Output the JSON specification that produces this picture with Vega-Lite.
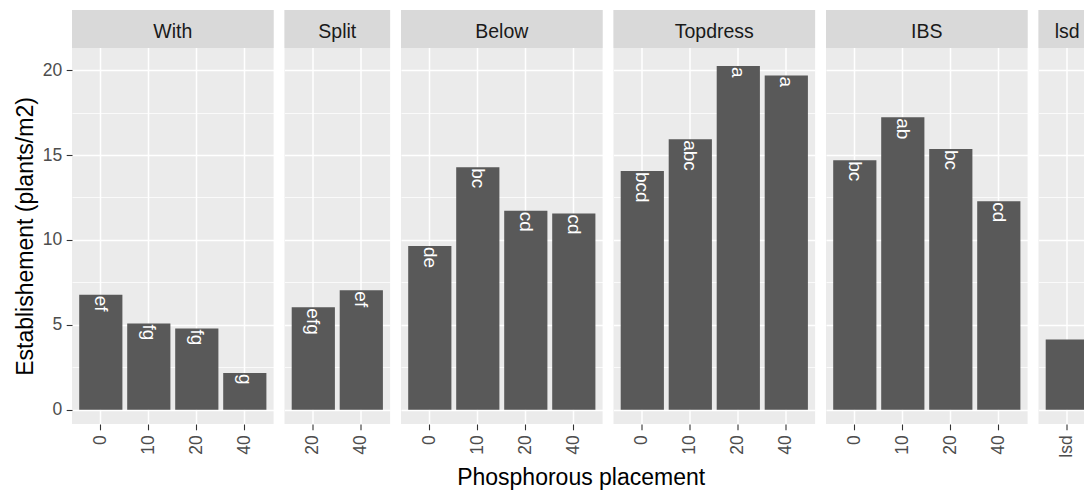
{
  "$schema": "https://vega.github.io/schema/vega-lite/v6.json",
  "padding": {"left": 14, "top": 10, "right": 0, "bottom": 0},
  "background": "white",
  "datasets": {
    "d": [
      {"placement": "With", "rate": "0", "value": 6.77, "letters": "ef"},
      {"placement": "With", "rate": "10", "value": 5.08, "letters": "fg"},
      {"placement": "With", "rate": "20", "value": 4.79, "letters": "fg"},
      {"placement": "With", "rate": "40", "value": 2.17, "letters": "g"},
      {"placement": "Split", "rate": "20", "value": 6.03, "letters": "efg"},
      {"placement": "Split", "rate": "40", "value": 7.03, "letters": "ef"},
      {"placement": "Below", "rate": "0", "value": 9.64, "letters": "de"},
      {"placement": "Below", "rate": "10", "value": 14.28, "letters": "bc"},
      {"placement": "Below", "rate": "20", "value": 11.72, "letters": "cd"},
      {"placement": "Below", "rate": "40", "value": 11.55, "letters": "cd"},
      {"placement": "Topdress", "rate": "0", "value": 14.06, "letters": "bcd"},
      {"placement": "Topdress", "rate": "10", "value": 15.93, "letters": "abc"},
      {"placement": "Topdress", "rate": "20", "value": 20.24, "letters": "a"},
      {"placement": "Topdress", "rate": "40", "value": 19.68, "letters": "a"},
      {"placement": "IBS", "rate": "0", "value": 14.69, "letters": "bc"},
      {"placement": "IBS", "rate": "10", "value": 17.23, "letters": "ab"},
      {"placement": "IBS", "rate": "20", "value": 15.36, "letters": "bc"},
      {"placement": "IBS", "rate": "40", "value": 12.28, "letters": "cd"},
      {"placement": "lsd", "rate": "lsd", "value": 4.14, "letters": ""}
    ]
  },
  "title": {
    "text": "Phosphorous placement",
    "orient": "bottom",
    "anchor": "middle",
    "fontSize": 23,
    "fontWeight": "normal",
    "color": "black",
    "font": "Liberation Sans",
    "offset": 10,
    "dx": 26
  },
  "spacing": 10.5,
  "resolve": {"scale": {"x": "independent", "y": "independent"}},
  "hconcat": [
    {
      "width": 201.6, "height": 414,
      "data": {"name": "d"},
      "transform": [{"filter": "datum.placement === 'With'"}],
      "layer": [
        {
          "mark": {"type": "bar", "fill": "#595959"},
          "encoding": {
            "x": {"field": "rate", "type": "nominal", "scale": {"paddingInner": 0.1, "paddingOuter": 0.15}, "axis": {"title": null, "grid": true}},
            "y": {
              "field": "value", "type": "quantitative",
              "scale": {"domain": [-0.84, 23.54], "nice": false, "zero": false},
              "axis": {
                "title": "Establishement (plants/m2)",
                "titleFontSize": 23, "titleFont": "Liberation Sans", "titleFontWeight": "normal", "titleColor": "black",
                "titlePadding": 5, "titleY": 226,
                "values": [0, 2.5, 5, 7.5, 10, 12.5, 15, 17.5, 20],
                "labelExpr": "datum.value % 5 === 0 ? datum.label : ''",
                "labelFontSize": 17.5, "labelColor": "#4D4D4D", "labelFont": "Liberation Sans", "labelPadding": 4.5,
                "tickSize": 5.8, "tickWidth": 1.1, "tickColor": "#333333",
                "tickOpacity": {"condition": {"test": "datum.value % 5 === 0", "value": 1}, "value": 0},
                "grid": true, "gridColor": "white",
                "gridWidth": {"condition": {"test": "datum.value % 5 === 0", "value": 1.5}, "value": 0.75},
                "domain": false
              }
            },
            "y2": {"datum": 0}
          }
        },
        {
          "mark": {"type": "text", "angle": 90, "align": "left", "baseline": "middle", "dx": 1, "fill": "white", "fontSize": 19, "font": "Liberation Sans"},
          "encoding": {"x": {"field": "rate", "type": "nominal"}, "y": {"field": "value", "type": "quantitative"}, "text": {"field": "letters"}}
        },
        {
          "transform": [{"aggregate": [{"op": "count", "as": "n"}], "groupby": ["placement"]}],
          "mark": {"type": "rect", "fill": "#D9D9D9"},
          "encoding": {"x": {"value": 0}, "x2": {"value": "width"}, "y": {"datum": 23.54}, "y2": {"datum": 21.3}}
        },
        {
          "transform": [{"aggregate": [{"op": "count", "as": "n"}], "groupby": ["placement"]}],
          "mark": {"type": "text", "fontSize": 19.5, "fill": "#1A1A1A", "baseline": "middle", "align": "center", "font": "Liberation Sans"},
          "encoding": {"y": {"datum": 22.22}, "text": {"field": "placement"}}
        }
      ]
    },
    {
      "width": 105.6, "height": 414,
      "data": {"name": "d"},
      "transform": [{"filter": "datum.placement === 'Split'"}],
      "layer": [
        {
          "mark": {"type": "bar", "fill": "#595959"},
          "encoding": {
            "x": {"field": "rate", "type": "nominal", "scale": {"paddingInner": 0.1, "paddingOuter": 0.15}, "axis": {"title": null, "grid": true}},
            "y": {
              "field": "value", "type": "quantitative",
              "scale": {"domain": [-0.84, 23.54], "nice": false, "zero": false},
              "axis": {
                "title": null, "labels": false, "ticks": false, "domain": false, "minExtent": 0,
                "values": [0, 2.5, 5, 7.5, 10, 12.5, 15, 17.5, 20],
                "grid": true, "gridColor": "white",
                "gridWidth": {"condition": {"test": "datum.value % 5 === 0", "value": 1.5}, "value": 0.75}
              }
            },
            "y2": {"datum": 0}
          }
        },
        {
          "mark": {"type": "text", "angle": 90, "align": "left", "baseline": "middle", "dx": 1, "fill": "white", "fontSize": 19, "font": "Liberation Sans"},
          "encoding": {"x": {"field": "rate", "type": "nominal"}, "y": {"field": "value", "type": "quantitative"}, "text": {"field": "letters"}}
        },
        {
          "transform": [{"aggregate": [{"op": "count", "as": "n"}], "groupby": ["placement"]}],
          "mark": {"type": "rect", "fill": "#D9D9D9"},
          "encoding": {"x": {"value": 0}, "x2": {"value": "width"}, "y": {"datum": 23.54}, "y2": {"datum": 21.3}}
        },
        {
          "transform": [{"aggregate": [{"op": "count", "as": "n"}], "groupby": ["placement"]}],
          "mark": {"type": "text", "fontSize": 19.5, "fill": "#1A1A1A", "baseline": "middle", "align": "center", "font": "Liberation Sans"},
          "encoding": {"y": {"datum": 22.22}, "text": {"field": "placement"}}
        }
      ]
    },
    {
      "width": 201.6, "height": 414,
      "data": {"name": "d"},
      "transform": [{"filter": "datum.placement === 'Below'"}],
      "layer": [
        {
          "mark": {"type": "bar", "fill": "#595959"},
          "encoding": {
            "x": {"field": "rate", "type": "nominal", "scale": {"paddingInner": 0.1, "paddingOuter": 0.15}, "axis": {"title": null, "grid": true}},
            "y": {
              "field": "value", "type": "quantitative",
              "scale": {"domain": [-0.84, 23.54], "nice": false, "zero": false},
              "axis": {
                "title": null, "labels": false, "ticks": false, "domain": false, "minExtent": 0,
                "values": [0, 2.5, 5, 7.5, 10, 12.5, 15, 17.5, 20],
                "grid": true, "gridColor": "white",
                "gridWidth": {"condition": {"test": "datum.value % 5 === 0", "value": 1.5}, "value": 0.75}
              }
            },
            "y2": {"datum": 0}
          }
        },
        {
          "mark": {"type": "text", "angle": 90, "align": "left", "baseline": "middle", "dx": 1, "fill": "white", "fontSize": 19, "font": "Liberation Sans"},
          "encoding": {"x": {"field": "rate", "type": "nominal"}, "y": {"field": "value", "type": "quantitative"}, "text": {"field": "letters"}}
        },
        {
          "transform": [{"aggregate": [{"op": "count", "as": "n"}], "groupby": ["placement"]}],
          "mark": {"type": "rect", "fill": "#D9D9D9"},
          "encoding": {"x": {"value": 0}, "x2": {"value": "width"}, "y": {"datum": 23.54}, "y2": {"datum": 21.3}}
        },
        {
          "transform": [{"aggregate": [{"op": "count", "as": "n"}], "groupby": ["placement"]}],
          "mark": {"type": "text", "fontSize": 19.5, "fill": "#1A1A1A", "baseline": "middle", "align": "center", "font": "Liberation Sans"},
          "encoding": {"y": {"datum": 22.22}, "text": {"field": "placement"}}
        }
      ]
    },
    {
      "width": 201.6, "height": 414,
      "data": {"name": "d"},
      "transform": [{"filter": "datum.placement === 'Topdress'"}],
      "layer": [
        {
          "mark": {"type": "bar", "fill": "#595959"},
          "encoding": {
            "x": {"field": "rate", "type": "nominal", "scale": {"paddingInner": 0.1, "paddingOuter": 0.15}, "axis": {"title": null, "grid": true}},
            "y": {
              "field": "value", "type": "quantitative",
              "scale": {"domain": [-0.84, 23.54], "nice": false, "zero": false},
              "axis": {
                "title": null, "labels": false, "ticks": false, "domain": false, "minExtent": 0,
                "values": [0, 2.5, 5, 7.5, 10, 12.5, 15, 17.5, 20],
                "grid": true, "gridColor": "white",
                "gridWidth": {"condition": {"test": "datum.value % 5 === 0", "value": 1.5}, "value": 0.75}
              }
            },
            "y2": {"datum": 0}
          }
        },
        {
          "mark": {"type": "text", "angle": 90, "align": "left", "baseline": "middle", "dx": 1, "fill": "white", "fontSize": 19, "font": "Liberation Sans"},
          "encoding": {"x": {"field": "rate", "type": "nominal"}, "y": {"field": "value", "type": "quantitative"}, "text": {"field": "letters"}}
        },
        {
          "transform": [{"aggregate": [{"op": "count", "as": "n"}], "groupby": ["placement"]}],
          "mark": {"type": "rect", "fill": "#D9D9D9"},
          "encoding": {"x": {"value": 0}, "x2": {"value": "width"}, "y": {"datum": 23.54}, "y2": {"datum": 21.3}}
        },
        {
          "transform": [{"aggregate": [{"op": "count", "as": "n"}], "groupby": ["placement"]}],
          "mark": {"type": "text", "fontSize": 19.5, "fill": "#1A1A1A", "baseline": "middle", "align": "center", "font": "Liberation Sans"},
          "encoding": {"y": {"datum": 22.22}, "text": {"field": "placement"}}
        }
      ]
    },
    {
      "width": 201.6, "height": 414,
      "data": {"name": "d"},
      "transform": [{"filter": "datum.placement === 'IBS'"}],
      "layer": [
        {
          "mark": {"type": "bar", "fill": "#595959"},
          "encoding": {
            "x": {"field": "rate", "type": "nominal", "scale": {"paddingInner": 0.1, "paddingOuter": 0.15}, "axis": {"title": null, "grid": true}},
            "y": {
              "field": "value", "type": "quantitative",
              "scale": {"domain": [-0.84, 23.54], "nice": false, "zero": false},
              "axis": {
                "title": null, "labels": false, "ticks": false, "domain": false, "minExtent": 0,
                "values": [0, 2.5, 5, 7.5, 10, 12.5, 15, 17.5, 20],
                "grid": true, "gridColor": "white",
                "gridWidth": {"condition": {"test": "datum.value % 5 === 0", "value": 1.5}, "value": 0.75}
              }
            },
            "y2": {"datum": 0}
          }
        },
        {
          "mark": {"type": "text", "angle": 90, "align": "left", "baseline": "middle", "dx": 1, "fill": "white", "fontSize": 19, "font": "Liberation Sans"},
          "encoding": {"x": {"field": "rate", "type": "nominal"}, "y": {"field": "value", "type": "quantitative"}, "text": {"field": "letters"}}
        },
        {
          "transform": [{"aggregate": [{"op": "count", "as": "n"}], "groupby": ["placement"]}],
          "mark": {"type": "rect", "fill": "#D9D9D9"},
          "encoding": {"x": {"value": 0}, "x2": {"value": "width"}, "y": {"datum": 23.54}, "y2": {"datum": 21.3}}
        },
        {
          "transform": [{"aggregate": [{"op": "count", "as": "n"}], "groupby": ["placement"]}],
          "mark": {"type": "text", "fontSize": 19.5, "fill": "#1A1A1A", "baseline": "middle", "align": "center", "font": "Liberation Sans"},
          "encoding": {"y": {"datum": 22.22}, "text": {"field": "placement"}}
        }
      ]
    },
    {
      "width": 47.5, "height": 414,
      "data": {"name": "d"},
      "transform": [{"filter": "datum.placement === 'lsd'"}],
      "layer": [
        {
          "mark": {"type": "bar", "fill": "#595959"},
          "encoding": {
            "x": {"field": "rate", "type": "nominal", "scale": {"range": [0, 57.6], "paddingInner": 0.1, "paddingOuter": 0.15}, "axis": {"title": null, "grid": true}},
            "y": {
              "field": "value", "type": "quantitative",
              "scale": {"domain": [-0.84, 23.54], "nice": false, "zero": false},
              "axis": {
                "title": null, "labels": false, "ticks": false, "domain": false, "minExtent": 0,
                "values": [0, 2.5, 5, 7.5, 10, 12.5, 15, 17.5, 20],
                "grid": true, "gridColor": "white",
                "gridWidth": {"condition": {"test": "datum.value % 5 === 0", "value": 1.5}, "value": 0.75}
              }
            },
            "y2": {"datum": 0}
          }
        },
        {
          "transform": [{"aggregate": [{"op": "count", "as": "n"}], "groupby": ["placement"]}],
          "mark": {"type": "rect", "fill": "#D9D9D9"},
          "encoding": {"x": {"value": 0}, "x2": {"value": "width"}, "y": {"datum": 23.54}, "y2": {"datum": 21.3}}
        },
        {
          "transform": [{"aggregate": [{"op": "count", "as": "n"}], "groupby": ["placement"]}],
          "mark": {"type": "text", "fontSize": 19.5, "fill": "#1A1A1A", "baseline": "middle", "align": "center", "dx": 5, "font": "Liberation Sans"},
          "encoding": {"y": {"datum": 22.22}, "text": {"field": "placement"}}
        }
      ]
    }
  ],
  "config": {
    "view": {"fill": "#EBEBEB", "stroke": null},
    "font": "Liberation Sans",
    "axisX": {
      "bandPosition": 0.5,
      "gridColor": "white",
      "gridWidth": 1.5,
      "labelAngle": 270,
      "labelFontSize": 17.5,
      "labelColor": "#4D4D4D",
      "labelFont": "Liberation Sans",
      "tickColor": "#333333",
      "tickSize": 5.8,
      "tickWidth": 1.1,
      "labelPadding": 5,
      "domain": false
    }
  }
}
